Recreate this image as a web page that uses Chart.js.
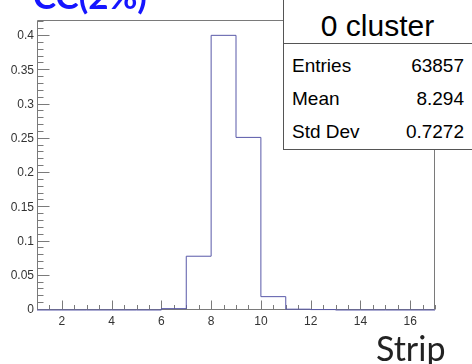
<!DOCTYPE html>
<html>
<head>
<meta charset="utf-8">
<script src="https://cdn.jsdelivr.net/npm/chart.js@4/dist/chart.umd.min.js"></script>
<style>
  html, body { margin:0; padding:0; background:#fff; }
  #wrap { position:relative; width:472px; height:364px; overflow:hidden; background:#fff; }
  canvas { position:absolute; left:0; top:0; }
  .t { position:absolute; white-space:nowrap; line-height:1; }
  #stats { position:absolute; left:283px; top:-1px; width:200px; height:151px; border:1px solid #555; background:#fff; box-sizing:border-box; }
  #sep { position:absolute; left:283px; top:43px; width:200px; height:1px; background:#555; }
  .sf { font-family:"Liberation Sans", Arial, sans-serif; color:#000; }
</style>
</head>
<body>
<div id="wrap">
  <canvas id="c" width="472" height="364"></canvas>
  <div class="t" id="title" style="left:33px;top:-26px;font:bold 35px Lato, sans-serif;color:#1515ff;">CC(2%)</div>
  <div id="stats"></div>
  <div id="sep"></div>
  <div class="t sf" id="hdr" style="left:283px;width:189px;text-align:center;top:11px;font-size:30px;">0 cluster</div>
  <div id="rows"></div>
  <div class="t" id="xtitle" style="left:376px;top:327px;font:34px Lato, sans-serif;color:#222;">Strip</div>
</div>
<script>
// ---- data ----
const strips = [1, 2, 3, 4, 5, 6, 7, 8, 9, 10, 11, 12, 13, 14, 15, 16];          // bin left edges
const fractions = [0, 0, 0, 0, 0, 0.002, 0.0785, 0.401, 0.252, 0.0195, 0.0012, 0.0006, 0, 0, 0, 0];
const xTickValues = [2, 4, 6, 8, 10, 12, 14, 16];
const yTickValues = [0, 0.05, 0.1, 0.15, 0.2, 0.25, 0.3, 0.35, 0.4];
const yTickLabels = ['0', '0.05', '0.1', '0.15', '0.2', '0.25', '0.3', '0.35', '0.4'];
const statLabels = ['Entries', 'Mean', 'Std Dev'];
const statValues = ['63857', '8.294', '0.7272'];
const histTitle = '0 cluster';

// stats rows
const rowTops = [56, 89, 122];
const rows = document.getElementById('rows');
statLabels.forEach((lab, i) => {
  const a = document.createElement('div');
  a.className = 't sf'; a.style.left = '292px'; a.style.top = rowTops[i] + 'px'; a.style.fontSize = '19px';
  a.textContent = lab; rows.appendChild(a);
  const b = document.createElement('div');
  b.className = 't sf'; b.style.right = (472 - 464) + 'px'; b.style.top = rowTops[i] + 'px'; b.style.fontSize = '19px';
  b.textContent = statValues[i]; rows.appendChild(b);
});
document.getElementById('hdr').textContent = histTitle;

// step points: left edges plus closing right edge
const pts = strips.map((s, i) => ({ x: s, y: fractions[i] }));
pts.push({ x: strips[strips.length - 1] + 1, y: fractions[fractions.length - 1] });

const frameColor = '#7a7a7a';
const rootAxes = {
  id: 'rootAxes',
  beforeDatasetsDraw(chart) {
    const { ctx, chartArea: a, scales: { x, y } } = chart;
    ctx.save();
    ctx.strokeStyle = frameColor;
    ctx.lineWidth = 1;
    ctx.beginPath();
    const L = Math.round(a.left) + 0.5, R = Math.round(a.right) - 0.5, T = Math.round(a.top) + 0.5, B = Math.round(a.bottom) - 0.5;
    ctx.moveTo(L, T); ctx.lineTo(R, T); ctx.lineTo(R, B); ctx.lineTo(L, B); ctx.closePath();
    // y ticks (inside)
    for (let k = 0; k <= 42; k++) {
      const v = k * 0.01;
      const py = Math.round(y.getPixelForValue(v)) - 0.5;
      const len = (k % 5 === 0) ? 12 : 6;
      ctx.moveTo(L, py); ctx.lineTo(L + len, py);
    }
    // x ticks (inside)
    for (let k = 2; k <= 34; k++) {
      const v = k * 0.5;
      const px = Math.round(x.getPixelForValue(v)) + 0.5;
      const len = (k % 4 === 0) ? 9 : 4.5;
      ctx.moveTo(px, B); ctx.lineTo(px, B - len);
    }
    ctx.stroke();
    ctx.restore();
  }
};

new Chart(document.getElementById('c'), {
  type: 'line',
  data: {
    datasets: [{
      data: pts,
      stepped: 'before',
      borderColor: '#5858a8',
      borderWidth: 1,
      pointRadius: 0,
      fill: false,
      clip: 4
    }]
  },
  options: {
    responsive: false,
    animation: false,
    devicePixelRatio: 1,
    layout: { padding: { top: 20, right: 37, left: 0, bottom: 0 } },
    plugins: { legend: { display: false }, tooltip: { enabled: false } },
    scales: {
      x: {
        type: 'linear', min: 1, max: 17,
        afterBuildTicks: s => { s.ticks = xTickValues.map(v => ({ value: v })); },
        afterFit: s => { s.height = 54; },
        grid: { display: false, drawTicks: false },
        border: { display: false },
        ticks: { padding: 4, color: '#333', font: { family: 'Liberation Sans', size: 12 }, maxRotation: 0, autoSkip: false,
                 callback: v => String(v) }
      },
      y: {
        type: 'linear', min: 0, max: 0.4234,
        afterBuildTicks: s => { s.ticks = yTickValues.map(v => ({ value: v })); },
        afterFit: s => { s.width = 37; },
        grid: { display: false, drawTicks: false },
        border: { display: false },
        ticks: { padding: 3, color: '#333', font: { family: 'Liberation Sans', size: 12 }, autoSkip: false,
                 callback: v => yTickLabels[yTickValues.findIndex(t => Math.abs(t - v) < 1e-9)] }
      }
    }
  },
  plugins: [rootAxes]
});
</script>
</body>
</html>
